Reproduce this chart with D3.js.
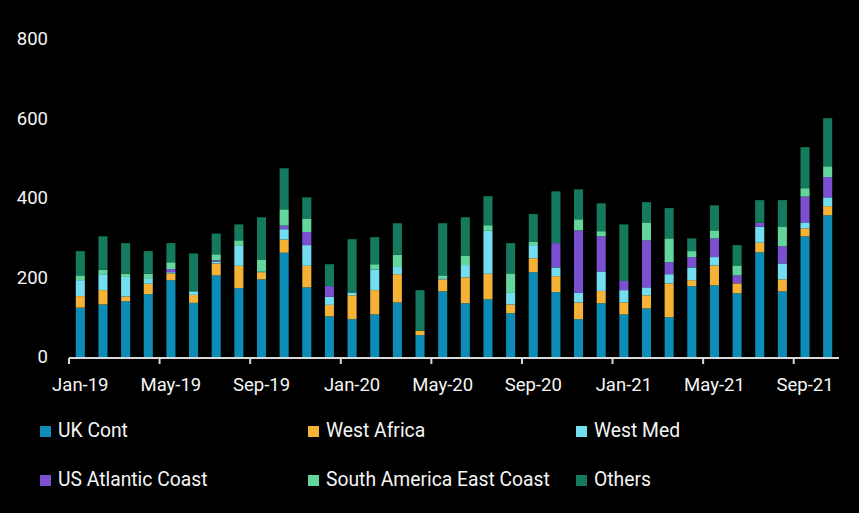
<!DOCTYPE html>
<html>
<head>
<meta charset="utf-8">
<script src="https://cdn.jsdelivr.net/npm/d3@7"></script>
<style>
  html, body { margin: 0; padding: 0; background: #000; }
  svg { display: block; font-family: Roboto, "Noto Sans", sans-serif; }
</style>
</head>
<body>
<svg id="chart" width="859" height="513"></svg>
<script>
const months = ["Jan-19","Feb-19","Mar-19","Apr-19","May-19","Jun-19","Jul-19","Aug-19","Sep-19","Oct-19","Nov-19","Dec-19",
  "Jan-20","Feb-20","Mar-20","Apr-20","May-20","Jun-20","Jul-20","Aug-20","Sep-20","Oct-20","Nov-20","Dec-20",
  "Jan-21","Feb-21","Mar-21","Apr-21","May-21","Jun-21","Jul-21","Aug-21","Sep-21","Oct-21"];
const seriesNames = ["UK Cont","West Africa","West Med","US Atlantic Coast","South America East Coast","Others"];
const ukCont      = [124,132,140,158,193,136,205,173,195,262,175,102, 95,107,137, 55,165,135,145,110,213,163, 95,135,107,122,100,178,180,160,263,165,303,356];
const westAfrica  = [ 29, 36, 12, 26, 17, 20, 30, 56, 18, 33, 54, 29, 60, 61, 71, 11, 30, 65, 64, 22, 35, 40, 42, 31, 30, 33, 85, 15, 50, 25, 24, 30, 20, 23];
const westMed     = [ 40, 40, 49, 12,  3,  9,  5, 50,  2, 26, 52, 20,  7, 52, 18,  0,  3, 31,108, 29, 33, 22, 24, 49, 31, 20, 23, 32, 21,  0, 40, 40, 15, 22];
const usAtlantic  = [  0,  0,  0,  0,  8,  0,  3,  0,  0,  9, 33, 27,  0,  0,  0,  0,  0,  0,  0,  0,  0, 61,157, 88, 23,118, 30, 26, 47, 20, 10, 43, 65, 51];
const saEastCoast = [ 12, 11,  8, 13, 17,  0, 15, 14, 30, 41, 34,  0,  0, 13, 31,  0,  7, 24, 14, 49,  8,  0, 28, 13,  0, 45, 60, 15, 20, 25,  0, 50, 21, 27];
const others      = [ 61, 84, 77, 57, 48, 95, 52, 40,106,103, 53, 55,134, 68, 79,102,131, 96, 73, 76, 70,130, 75, 70,142, 51, 76, 32, 63, 51, 57, 66,103,121];
const yTicks = [0,200,400,600,800];
const xTickLabels = ["Jan-19","May-19","Sep-19","Jan-20","May-20","Sep-20","Jan-21","May-21","Sep-21"];
const colors = ["#0d8db5","#f4b236","#72def0","#7a50d0","#62d69c","#157a5d"];

const seriesArrays = [ukCont, westAfrica, westMed, usAtlantic, saEastCoast, others];
const rows = months.map((m, i) => {
  const r = {month: m};
  seriesNames.forEach((s, k) => r[s] = seriesArrays[k][i]);
  return r;
});

const svg = d3.select("#chart");
const x = d3.scaleBand().domain(months).range([69, 839]).paddingInner(0.6).paddingOuter(0.3);
const y = d3.scaleLinear().domain([0, 800]).range([357, 38.5]);
const color = d3.scaleOrdinal().domain(seriesNames).range(colors);

const stacked = d3.stack().keys(seriesNames)(rows);

svg.append("g").selectAll("g").data(stacked).join("g")
  .attr("fill", d => color(d.key))
  .selectAll("rect").data(d => d).join("rect")
  .attr("x", d => x(d.data.month))
  .attr("width", x.bandwidth())
  .attr("y", d => y(d[1]))
  .attr("height", d => y(d[0]) - y(d[1]));

// Y axis labels
svg.append("g").selectAll("text").data(yTicks).join("text")
  .attr("x", 48).attr("y", d => y(d)).attr("dy", "0.35em")
  .attr("text-anchor", "end").attr("fill", "#f5f5f5").attr("font-size", 18.5)
  .text(d => d);

// X axis line
const step = x.step();
const edge = step * x.paddingInner() / 2;
svg.append("line").attr("x1", 69).attr("x2", 839).attr("y1", 358).attr("y2", 358)
  .attr("stroke", "#d9d9d9").attr("stroke-width", 2);
svg.append("g").selectAll("line").data(xTickLabels).join("line")
  .attr("x1", d => x(d) - edge).attr("x2", d => x(d) - edge)
  .attr("y1", 358).attr("y2", 364).attr("stroke", "#d9d9d9").attr("stroke-width", 2);
svg.append("g").selectAll("text").data(xTickLabels).join("text")
  .attr("x", d => x(d) + x.bandwidth() / 2).attr("y", 385).attr("dy", "0.35em")
  .attr("text-anchor", "middle").attr("fill", "#f5f5f5").attr("font-size", 18.5)
  .text(d => d);

// Legend
const leg = svg.append("g").selectAll("g").data(seriesNames).join("g")
  .attr("transform", (d, i) => `translate(${40 + (i % 3) * 268},${i < 3 ? 430 : 479})`);
leg.append("rect").attr("x", 0).attr("y", -4).attr("width", 11).attr("height", 11)
  .attr("fill", d => color(d));
leg.append("text").attr("x", 18).attr("y", 0).attr("dy", "0.35em")
  .attr("fill", "#f5f5f5").attr("font-size", 19.3).text(d => d);
</script>
</body>
</html>
